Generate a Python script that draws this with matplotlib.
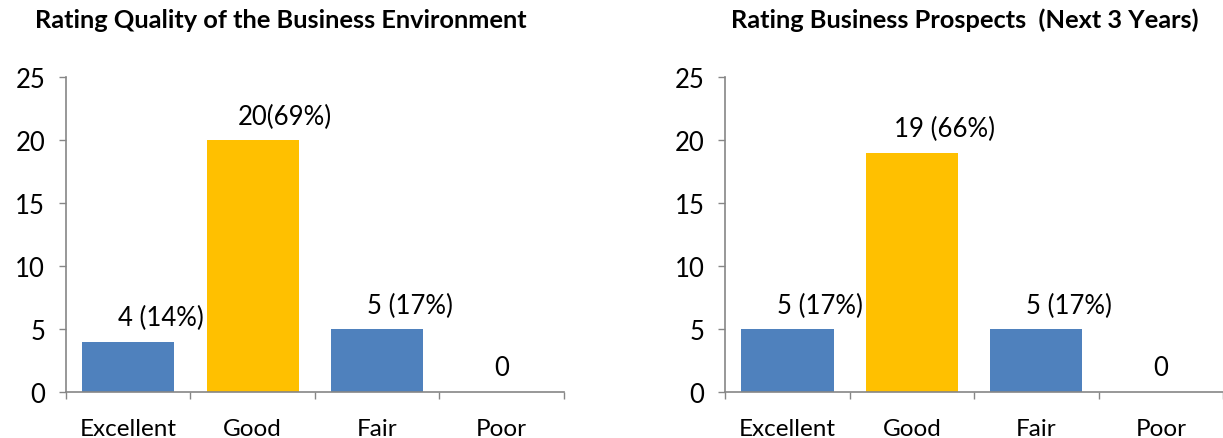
import numpy as np
import matplotlib
matplotlib.use("Agg")
import matplotlib.pyplot as plt

plt.rcParams['font.family'] = ['Lato', 'DejaVu Sans']

# Survey responses per rating category
categories = ["Excellent", "Good", "Fair", "Poor"]
environment_counts = [4, 20, 5, 0]
prospects_counts = [5, 19, 5, 0]
titles = ["Rating Quality of the Business Environment",
          "Rating Business Prospects  (Next 3 Years)"]
y_ticks = [0, 5, 10, 15, 20, 25]

BLUE = "#4F81BD"
GOLD = "#FFC000"
AXIS_GREY = "#868686"


def value_label(v, total, sep):
    # bars with a zero count only show the number
    if v == 0:
        return "0"
    pct = int(round(v / total * 100))
    return f"{v}{sep}({pct}%)"


def draw_panel(ax, counts, seps):
    x = np.arange(len(categories))
    colors = [GOLD if c == "Good" else BLUE for c in categories]
    ax.bar(x, counts, width=0.74, color=colors, zorder=2)

    total = sum(counts)
    for xi, v, sep in zip(x, counts, seps):
        shift = 0.0 if v == 0 else 0.26
        ax.text(xi + shift, v + 1.9, value_label(v, total, sep),
                ha="center", va="center", fontsize=18.5, color="black")

    ax.set_xlim(-0.5, len(categories) - 0.5)
    ax.set_ylim(0, 25)
    ax.set_yticks(y_ticks)
    ax.tick_params(axis="y", direction="out", length=5, width=1,
                   color=AXIS_GREY, labelsize=18.5, pad=10)

    # Excel-style category axis: tick marks between categories
    ax.set_xticks(np.arange(-0.5, len(categories), 1.0))
    ax.set_xticklabels([])
    ax.tick_params(axis="x", which="major", direction="out", length=5,
                   width=1, color=AXIS_GREY)
    ax.set_xticks(x, minor=True)
    ax.set_xticklabels(categories, minor=True)
    ax.tick_params(axis="x", which="minor", length=0, labelsize=17.5, pad=19)

    for side in ["top", "right"]:
        ax.spines[side].set_visible(False)
    for side in ["left", "bottom"]:
        ax.spines[side].set_color(AXIS_GREY)
        ax.spines[side].set_linewidth(1.2)


fig = plt.figure(figsize=(12.23, 4.39), dpi=100)
ax1 = fig.add_axes([0.054, 0.105, 0.407, 0.717])
ax2 = fig.add_axes([0.593, 0.105, 0.407, 0.717])

draw_panel(ax1, environment_counts, [" ", "", " ", " "])
draw_panel(ax2, prospects_counts, [" ", " ", " ", " "])

fig.text(0.230, 0.954, titles[0], ha="center", va="center",
         fontsize=18.3, fontweight="bold")
fig.text(0.789, 0.954, titles[1], ha="center", va="center",
         fontsize=18.3, fontweight="bold")

fig.savefig("out.png", dpi=100)
